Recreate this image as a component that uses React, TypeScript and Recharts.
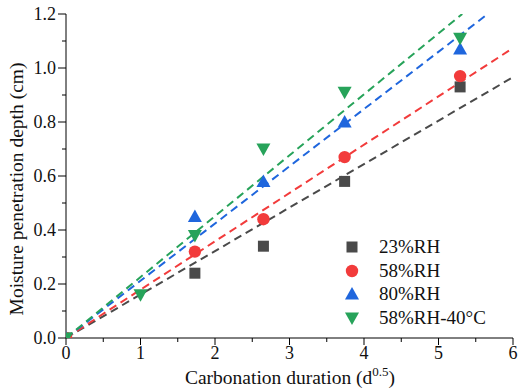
import React from "react";
import { ComposedChart, Line, Scatter, XAxis, YAxis } from "recharts";

const seriesNames = ["23%RH", "58%RH", "80%RH", "58%RH-40°C"];
const colors = ["#4a4a4a", "#f23b3b", "#1f66dd", "#27a35a"];

const rh23 = [
  { x: 0, y: 0 },
  { x: 1.73, y: 0.24 },
  { x: 2.65, y: 0.34 },
  { x: 3.74, y: 0.58 },
  { x: 5.29, y: 0.93 },
];
const rh58 = [
  { x: 0, y: 0 },
  { x: 1.73, y: 0.32 },
  { x: 2.65, y: 0.44 },
  { x: 3.74, y: 0.67 },
  { x: 5.29, y: 0.97 },
];
const rh80 = [
  { x: 0, y: 0 },
  { x: 1.73, y: 0.45 },
  { x: 2.65, y: 0.58 },
  { x: 3.74, y: 0.8 },
  { x: 5.29, y: 1.07 },
];
const rh58t40 = [
  { x: 0, y: 0 },
  { x: 1, y: 0.16 },
  { x: 1.73, y: 0.38 },
  { x: 2.65, y: 0.7 },
  { x: 3.74, y: 0.91 },
  { x: 5.29, y: 1.11 },
];

// fitted slopes of the dashed lines (through origin)
const slopes = [0.161, 0.179, 0.212, 0.2256];

const xTicks = [0, 0.5, 1, 1.5, 2, 2.5, 3, 3.5, 4, 4.5, 5, 5.5, 6];
const yTicks = [0, 0.1, 0.2, 0.3, 0.4, 0.5, 0.6, 0.7, 0.8, 0.9, 1.0, 1.1, 1.2];

const X_MAX = 6;
const Y_MAX = 1.2;

const fitLine = (k: number) => {
  const xe = Math.min(X_MAX, Y_MAX / k);
  return [
    { x: 0, y: 0 },
    { x: xe, y: xe * k },
  ];
};

const font = "'Liberation Serif', 'Times New Roman', 'DejaVu Serif', serif";

const Marker = ({ kind, cx, cy, color }: any) => {
  if (cx == null || cy == null) return null;
  if (kind === 0) return <rect x={cx - 5.5} y={cy - 5.5} width={11} height={11} fill={color} />;
  if (kind === 1) return <circle cx={cx} cy={cy} r={6.2} fill={color} />;
  if (kind === 2)
    return <polygon points={`${cx},${cy - 7} ${cx - 7},${cy + 5.5} ${cx + 7},${cy + 5.5}`} fill={color} />;
  return <polygon points={`${cx},${cy + 7} ${cx - 7},${cy - 5.5} ${cx + 7},${cy - 5.5}`} fill={color} />;
};

const XTick = ({ x, y, payload }: any) => {
  const v = payload.value;
  const major = Math.abs(v - Math.round(v)) < 1e-6;
  return (
    <g>
      <line x1={x} x2={x} y1={y} y2={y + (major ? 7 : 4)} stroke="#000" strokeWidth={1} />
      {major && (
        <text x={x} y={y + 21} textAnchor="middle" fontSize={18} fontFamily={font} fill="#111">
          {v}
        </text>
      )}
    </g>
  );
};

const YTick = ({ x, y, payload }: any) => {
  const v = payload.value;
  const major = Math.round(v * 10) % 2 === 0;
  return (
    <g>
      <line x1={x} x2={x - (major ? 8 : 4)} y1={y} y2={y} stroke="#000" strokeWidth={1} />
      {major && (
        <text x={x - 10} y={y + 6} textAnchor="end" fontSize={18} fontFamily={font} fill="#111">
          {v.toFixed(1)}
        </text>
      )}
    </g>
  );
};

const LegendBox = () => (
  <div
    style={{
      position: "absolute",
      left: 340,
      top: 235,
      fontFamily: font,
      fontSize: 19,
      color: "#111",
      lineHeight: "24px",
      whiteSpace: "nowrap",
    }}
  >
    {seriesNames.map((n, i) => (
      <div key={n} style={{ display: "flex", alignItems: "center", height: 23.7 }}>
        <svg width={26} height={20}>
          <Marker kind={i} cx={12} cy={10} color={colors[i]} />
        </svg>
        <span style={{ marginLeft: 13 }}>{n}</span>
      </div>
    ))}
  </div>
);

const datasets = [rh23, rh58, rh80, rh58t40];

export default function App() {
  return (
    <div style={{ position: "absolute", left: 0, top: 0, width: 519, height: 392, background: "#fff" }}>
      <ComposedChart width={519} height={392} margin={{ top: 14, right: 6, left: 0, bottom: 0 }}>
        <XAxis
          type="number"
          dataKey="x"
          domain={[0, X_MAX]}
          ticks={xTicks}
          interval={0}
          height={54}
          tickSize={0}
          tickMargin={0}
          tickLine={false}
          tick={<XTick />}
          axisLine={{ stroke: "#000", strokeWidth: 1 }}
          allowDataOverflow
          label={{
            content: () => (
              <text x={290} y={384} textAnchor="middle" fontSize={19.5} fontFamily={font} fill="#111">
                Carbonation duration (d
                <tspan dy={-8} fontSize={13}>0.5</tspan>
                <tspan dy={8}>)</tspan>
              </text>
            ),
          }}
        />
        <YAxis
          type="number"
          dataKey="y"
          domain={[0, Y_MAX]}
          ticks={yTicks}
          interval={0}
          width={66}
          tickSize={0}
          tickMargin={0}
          tickLine={false}
          tick={<YTick />}
          axisLine={{ stroke: "#000", strokeWidth: 1 }}
          allowDataOverflow
          label={{
            content: () => (
              <text
                x={23}
                y={189}
                transform="rotate(-90 23 189)"
                textAnchor="middle"
                fontSize={19.5}
                fontFamily={font}
                fill="#111"
              >
                Moisture penetration depth (cm)
              </text>
            ),
          }}
        />
        {slopes.map((k, i) => (
          <Line
            key={"fit" + i}
            data={fitLine(k)}
            dataKey="y"
            type="linear"
            stroke={colors[i]}
            strokeWidth={2}
            strokeDasharray="8 5"
            dot={false}
            activeDot={false}
            isAnimationActive={false}
            legendType="none"
          />
        ))}
        {datasets.map((d, i) => (
          <Scatter
            key={seriesNames[i]}
            name={seriesNames[i]}
            data={d}
            dataKey="y"
            fill={colors[i]}
            isAnimationActive={false}
            shape={(p: any) => <Marker kind={i} cx={p.cx} cy={p.cy} color={colors[i]} />}
          />
        ))}
      </ComposedChart>
      <LegendBox />
    </div>
  );
}
